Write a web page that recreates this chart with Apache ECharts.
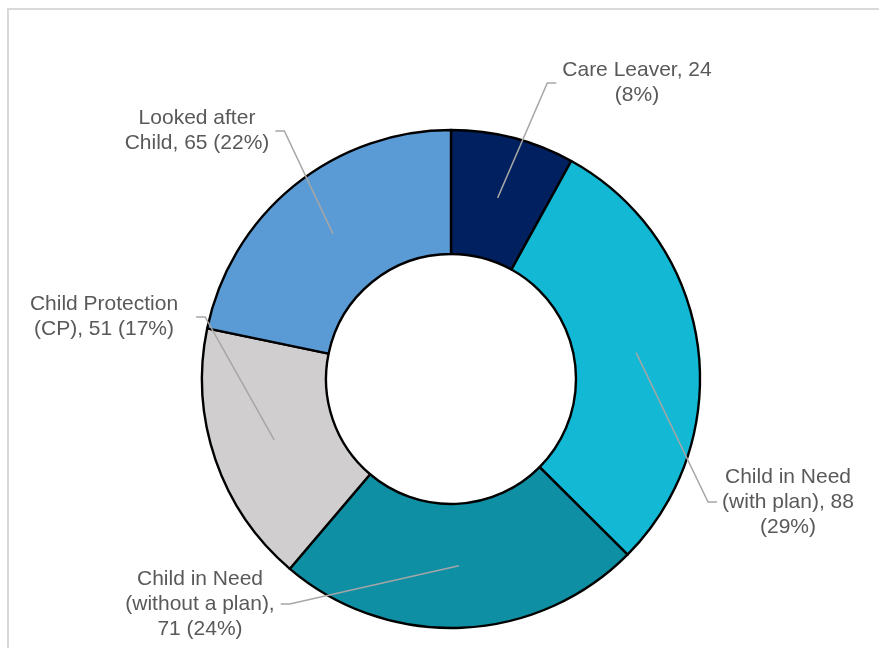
<!DOCTYPE html>
<html>
<head>
<meta charset="utf-8">
<script src="https://cdn.jsdelivr.net/npm/echarts@6/dist/echarts.min.js"></script>
<style>
  html, body { margin: 0; padding: 0; background: #fff; }
  #main { width: 879px; height: 648px; }
</style>
</head>
<body>
<div id="main"></div>
<script>
// data
var categories = ['Care Leaver', 'Child in Need (with plan)', 'Child in Need (without a plan)', 'Child Protection (CP)', 'Looked after Child'];
var counts = [24, 88, 71, 51, 65];
var sliceColors = ['#002060', '#12B8D4', '#0E8FA3', '#D0CECE', '#5B9BD5'];
// label text, broken into lines like the original
var labelTemplates = [
  'Care Leaver, {c}\n({d}%)',
  'Child in Need\n(with plan), {c}\n({d}%)',
  'Child in Need\n(without a plan),\n{c} ({d}%)',
  'Child Protection\n(CP), {c} ({d}%)',
  'Looked after\nChild, {c} ({d}%)'
];

// layout
var cx = 451, cy = 379, r0 = 125, r1 = 249;
var lineR = (r0 + r1) / 2;
// label centre x, centre y, side where the leader line attaches, gap
var labelPos = [
  [637, 83, 'left', 6],
  [788, 502, 'left', 5],
  [200, 604, 'right', 6],
  [104, 317, 'right', 18],
  [197, 131, 'right', 6]
];

var chart = echarts.init(document.getElementById('main'));

function pieData(colorFn) {
  return categories.map(function (name, i) {
    return { name: name, value: counts[i], itemStyle: { color: colorFn(i) } };
  });
}

var option = {
  animation: false,
  graphic: [{
    type: 'rect',
    z: -10,
    silent: true,
    shape: { x: 8, y: 9, width: 900, height: 700 },
    style: { fill: 'none', stroke: '#D9D9D9', lineWidth: 2 }
  }],
  series: [{
    // the ring
    type: 'pie',
    center: [cx, cy],
    radius: [r0, r1],
    startAngle: 90,
    clockwise: true,
    silent: true,
    data: pieData(function (i) { return sliceColors[i]; }),
    itemStyle: { borderColor: '#000', borderWidth: 2.4 },
    label: { show: false },
    labelLine: { show: false }
  }, {
    // same slices, transparent, only carrying labels + leader lines on top
    type: 'pie',
    z: 5,
    center: [cx, cy],
    radius: [r0, r1],
    startAngle: 90,
    clockwise: true,
    silent: true,
    percentPrecision: 0,
    avoidLabelOverlap: false,
    data: pieData(function () { return 'rgba(0,0,0,0)'; }),
    itemStyle: { borderWidth: 0 },
    label: {
      show: true,
      position: 'outside',
      formatter: function (p) {
        return labelTemplates[p.dataIndex].replace('{c}', p.value).replace('{d}', p.percent);
      },
      fontFamily: 'Liberation Sans, Arial, sans-serif',
      fontSize: 21,
      lineHeight: 25,
      color: '#595959',
      align: 'center'
    },
    labelLine: {
      show: true,
      length: 10,
      length2: 10,
      lineStyle: { color: '#A6A6A6', width: 1.5 }
    },
    labelLayout: function (params) {
      var pos = labelPos[params.dataIndex];
      var w = params.labelRect.width;
      var p0 = params.labelLinePoints[0];
      var k = lineR / r1;
      var start = [cx + (p0[0] - cx) * k, cy + (p0[1] - cy) * k];
      var edge = pos[2] === 'left' ? pos[0] - w / 2 - pos[3] : pos[0] + w / 2 + pos[3];
      var stub = pos[2] === 'left' ? edge - 9 : edge + 9;
      return {
        x: pos[0],
        y: pos[1],
        align: 'center',
        verticalAlign: 'middle',
        labelLinePoints: [start, [stub, pos[1]], [edge, pos[1]]]
      };
    }
  }]
};

chart.setOption(option);
</script>
</body>
</html>
